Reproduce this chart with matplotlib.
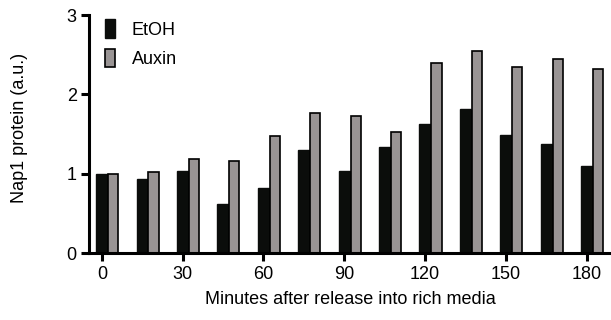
import numpy as np
import matplotlib
matplotlib.use("Agg")
import matplotlib.pyplot as plt

plt.rcParams['font.family'] = ['Liberation Sans', 'DejaVu Sans']

minutes = [0, 15, 30, 45, 60, 75, 90, 105, 120, 135, 150, 165, 180]
etoh = [1.00, 0.93, 1.03, 0.62, 0.82, 1.30, 1.04, 1.34, 1.63, 1.81, 1.49, 1.38, 1.10]
auxin = [1.00, 1.02, 1.19, 1.16, 1.47, 1.77, 1.73, 1.52, 2.40, 2.55, 2.35, 2.44, 2.32]
xticks = [0, 30, 60, 90, 120, 150, 180]
yticks = [0, 1, 2, 3]

fig = plt.figure(figsize=(6.11, 3.2), dpi=100)
ax = fig.add_axes([0.146, 0.209, 0.854, 0.744])

x = np.array(minutes, dtype=float)
w = 4.2
ax.bar(x, etoh, width=w, color='#0b0d0b', edgecolor='#0b0d0b', linewidth=1.0,
       label='EtOH')
ax.bar(x + w, auxin, width=w * 0.9, color='#999494', edgecolor='black',
       linewidth=1.2, label='Auxin')

ax.set_xlim(-4.7, 189)
ax.set_ylim(0, 3)
ax.set_xticks(xticks)
ax.set_yticks(yticks)

for s in ['top', 'right']:
    ax.spines[s].set_visible(False)
for s in ['left', 'bottom']:
    ax.spines[s].set_linewidth(2.2)
ax.tick_params(width=2.2, length=6, labelsize=13, direction='out', pad=3)

ax.set_ylabel('Nap1 protein (a.u.)', fontsize=13)
ax.yaxis.set_label_coords(-0.117, 0.525)
ax.set_xlabel('Minutes after release into rich media', fontsize=13, labelpad=6)

ax.legend(loc='upper left', bbox_to_anchor=(0.0, 1.05), frameon=False,
          fontsize=13, handlelength=0.55, handleheight=1.2, handletextpad=0.9,
          labelspacing=0.55)

fig.savefig('out.png', dpi=100)
